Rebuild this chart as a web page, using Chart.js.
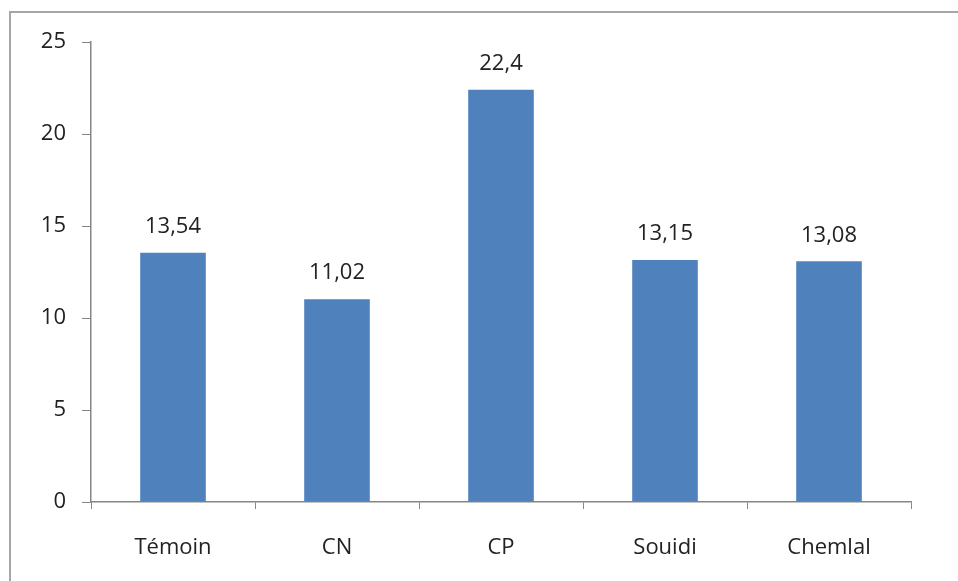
<!DOCTYPE html>
<html>
<head>
<meta charset="utf-8">
<script src="https://cdn.jsdelivr.net/npm/chart.js@4.4.0/dist/chart.umd.min.js"></script>
<style>
  html, body { margin: 0; padding: 0; background: #fff; }
  #wrap { width: 958px; height: 581px; position: relative; }
</style>
</head>
<body>
<div id="wrap"><canvas id="c" width="958" height="581"></canvas></div>
<script>
const categories = ['Témoin', 'CN', 'CP', 'Souidi', 'Chemlal'];
const values = [13.54, 11.02, 22.4, 13.15, 13.08];
const yTicks = [0, 5, 10, 15, 20, 25];

const FONT = "'Open Sans', 'Liberation Sans', sans-serif";
const FONT_SIZE = 22;

// Outer frame: grey line along the left and top edges
const framePlugin = {
  id: 'frame',
  beforeDraw(chart) {
    const ctx = chart.ctx;
    ctx.save();
    ctx.fillStyle = '#fff';
    ctx.fillRect(0, 0, chart.width, chart.height);
    ctx.strokeStyle = '#a6a6a6';
    ctx.lineWidth = 2;
    ctx.beginPath();
    ctx.moveTo(10, chart.height);
    ctx.lineTo(10, 12);
    ctx.lineTo(chart.width, 12);
    ctx.stroke();
    ctx.restore();
  }
};

// Value labels above each bar (decimal comma)
const valueLabels = {
  id: 'valueLabels',
  afterDatasetsDraw(chart) {
    const ctx = chart.ctx;
    const meta = chart.getDatasetMeta(0);
    ctx.save();
    ctx.font = FONT_SIZE + 'px ' + FONT;
    ctx.fillStyle = '#222';
    ctx.textAlign = 'center';
    ctx.textBaseline = 'middle';
    meta.data.forEach((bar, i) => {
      const txt = String(values[i]).replace('.', ',');
      ctx.fillText(txt, bar.x, bar.y - 26);
    });
    ctx.restore();
  }
};

new Chart(document.getElementById('c'), {
  type: 'bar',
  data: {
    labels: categories,
    datasets: [{
      data: values,
      backgroundColor: '#4f81bd',
      borderWidth: 0,
      categoryPercentage: 1.0,
      barPercentage: 0.4
    }]
  },
  options: {
    responsive: false,
    animation: false,
    devicePixelRatio: 1,
    layout: { padding: { top: 42, right: 47, left: 0, bottom: 0 } },
    plugins: { legend: { display: false }, tooltip: { enabled: false } },
    scales: {
      x: {
        offset: true,
        grid: {
          display: true,
          offset: true,
          drawOnChartArea: false,
          drawTicks: true,
          tickLength: 7,
          color: '#868686'
        },
        border: { display: true, color: '#868686', width: 1.5 },
        ticks: {
          color: '#222',
          font: { family: FONT, size: FONT_SIZE },
          padding: 26,
          maxRotation: 0
        },
        afterFit(scale) { scale.height = 79; }
      },
      y: {
        min: 0,
        max: 25,
        afterBuildTicks(scale) { scale.ticks = yTicks.map(v => ({ value: v })); },
        grid: {
          display: true,
          drawOnChartArea: false,
          drawTicks: true,
          tickLength: 9,
          color: '#868686'
        },
        border: { display: true, color: '#868686', width: 1.5 },
        ticks: {
          color: '#222',
          font: { family: FONT, size: FONT_SIZE },
          padding: 16
        },
        afterFit(scale) { scale.width = 91; }
      }
    }
  },
  plugins: [framePlugin, valueLabels]
});
</script>
</body>
</html>
